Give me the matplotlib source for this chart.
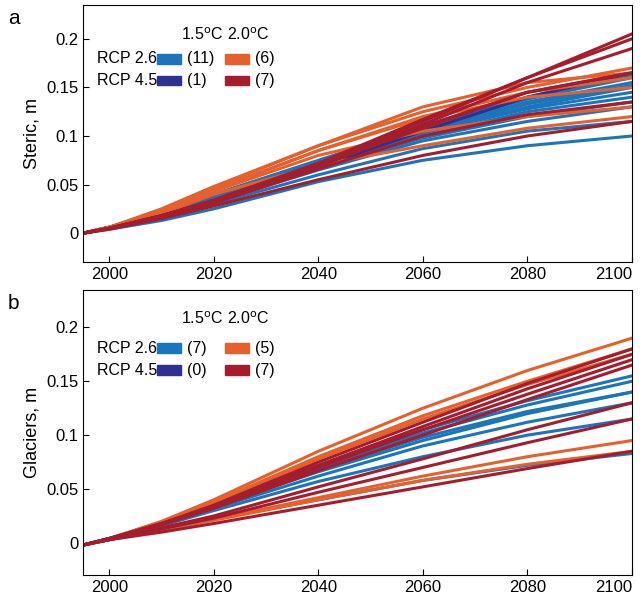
import matplotlib
matplotlib.use("Agg")
import matplotlib.pyplot as plt
from matplotlib.patches import Rectangle

years = [1995, 2000, 2010, 2020, 2040, 2060, 2080, 2100]

steric_blue = [
 [0,0.004,0.013,0.025,0.053,0.075,0.090,0.100],
 [0,0.005,0.016,0.030,0.060,0.087,0.105,0.115],
 [0,0.005,0.017,0.032,0.065,0.095,0.115,0.130],
 [0,0.005,0.018,0.033,0.067,0.098,0.120,0.135],
 [0,0.006,0.019,0.035,0.070,0.100,0.125,0.140],
 [0,0.006,0.020,0.036,0.070,0.103,0.128,0.145],
 [0,0.006,0.020,0.037,0.072,0.105,0.130,0.150],
 [0,0.006,0.021,0.038,0.072,0.106,0.133,0.152],
 [0,0.006,0.020,0.036,0.070,0.106,0.135,0.155],
 [0,0.006,0.021,0.038,0.073,0.108,0.138,0.160],
 [0,0.006,0.022,0.040,0.075,0.110,0.140,0.163]]
steric_dark = [[0,0.005,0.018,0.033,0.068,0.105,0.140,0.165]]
steric_orange = [
 [0,0.005,0.020,0.040,0.070,0.090,0.108,0.120],
 [0,0.006,0.022,0.043,0.080,0.105,0.120,0.130],
 [0,0.006,0.023,0.045,0.085,0.118,0.140,0.150],
 [0,0.006,0.024,0.047,0.090,0.130,0.155,0.165],
 [0,0.006,0.025,0.048,0.090,0.125,0.150,0.170],
 [0,0.006,0.022,0.044,0.085,0.120,0.145,0.160]]
steric_red = [
 [0,0.005,0.018,0.033,0.070,0.115,0.160,0.205],
 [0,0.005,0.018,0.034,0.072,0.117,0.160,0.200],
 [0,0.005,0.017,0.032,0.068,0.112,0.155,0.190],
 [0,0.005,0.018,0.033,0.070,0.110,0.145,0.165],
 [0,0.005,0.017,0.031,0.066,0.100,0.122,0.135],
 [0,0.004,0.015,0.028,0.055,0.080,0.100,0.115],
 [0,0.005,0.018,0.034,0.070,0.108,0.145,0.165]]

glac_blue = [
 [-0.002,0.003,0.013,0.022,0.040,0.058,0.072,0.083],
 [-0.002,0.004,0.016,0.030,0.057,0.080,0.100,0.115],
 [-0.002,0.004,0.017,0.032,0.062,0.090,0.112,0.130],
 [-0.002,0.004,0.018,0.034,0.066,0.095,0.120,0.140],
 [-0.002,0.004,0.018,0.035,0.068,0.098,0.122,0.140],
 [-0.002,0.004,0.019,0.036,0.070,0.102,0.128,0.150],
 [-0.002,0.004,0.019,0.037,0.072,0.105,0.132,0.155]]
glac_dark = []
glac_orange = [
 [-0.002,0.004,0.020,0.040,0.085,0.125,0.160,0.190],
 [-0.002,0.004,0.019,0.038,0.080,0.118,0.150,0.180],
 [-0.002,0.003,0.012,0.022,0.042,0.062,0.080,0.095],
 [-0.002,0.003,0.012,0.021,0.040,0.058,0.073,0.085],
 [-0.002,0.004,0.019,0.037,0.078,0.115,0.147,0.175]]
glac_red = [
 [-0.002,0.004,0.018,0.035,0.075,0.112,0.148,0.180],
 [-0.002,0.004,0.018,0.034,0.072,0.108,0.143,0.175],
 [-0.002,0.004,0.017,0.033,0.070,0.105,0.138,0.170],
 [-0.002,0.004,0.017,0.032,0.067,0.100,0.133,0.165],
 [-0.002,0.003,0.014,0.025,0.052,0.078,0.105,0.130],
 [-0.002,0.003,0.013,0.023,0.047,0.070,0.093,0.115],
 [-0.002,0.003,0.010,0.018,0.035,0.052,0.069,0.085]]

C_BLUE, C_DARK, C_ORANGE, C_RED = "#1b75bc", "#2e3192", "#e5602d", "#a51d2d"

fig = plt.figure(figsize=(6.44, 6.10), dpi=100)
plt.rcParams['font.family'] = ['Liberation Sans', 'DejaVu Sans']
axa = fig.add_axes([0.129, 0.570, 0.852, 0.422])
axb = fig.add_axes([0.129, 0.057, 0.852, 0.468])

def draw(ax, groups, counts, ylabel, rows_y, header_y):
    for lines, c in groups:
        for v in lines:
            ax.plot(years, v, color=c, lw=2.2)
    ax.set_xlim(1995, 2100)
    ax.set_ylim(-0.03, 0.235)
    ax.set_xticks([2000, 2020, 2040, 2060, 2080, 2100])
    ax.set_yticks([0, 0.05, 0.1, 0.15, 0.2])
    ax.set_yticklabels(['0', '0.05', '0.1', '0.15', '0.2'])
    ax.tick_params(labelsize=12, direction='in', length=4)
    for lbl in ax.get_xticklabels():
        if lbl.get_text() == '2100':
            lbl.set_horizontalalignment('right')
    ax.set_ylabel(ylabel, fontsize=13)
    fs = 11.5
    ax.text(0.178, header_y, "1.5$^{\\rm o}$C", transform=ax.transAxes, fontsize=fs, va='center')
    ax.text(0.262, header_y, "2.0$^{\\rm o}$C", transform=ax.transAxes, fontsize=fs, va='center')
    labels = ["RCP 2.6", "RCP 4.5"]
    cols = [(C_BLUE, C_ORANGE), (C_DARK, C_RED)]
    for i, y in enumerate(rows_y):
        ax.text(0.025, y, labels[i], transform=ax.transAxes, fontsize=fs, va='center')
        for j, x0 in enumerate([0.134, 0.258]):
            ax.add_patch(Rectangle((x0, y - 0.018), 0.045, 0.036, transform=ax.transAxes,
                                   color=cols[i][j], clip_on=False))
            ax.text(x0 + 0.055, y, "(%d)" % counts[i][j], transform=ax.transAxes,
                    fontsize=fs, va='center')

draw(axa, [(steric_blue, C_BLUE), (steric_dark, C_DARK), (steric_orange, C_ORANGE), (steric_red, C_RED)],
     [(11, 6), (1, 7)], "Steric, m", [0.79, 0.705], 0.885)
draw(axb, [(glac_blue, C_BLUE), (glac_dark, C_DARK), (glac_orange, C_ORANGE), (glac_red, C_RED)],
     [(7, 5), (0, 7)], "Glaciers, m", [0.795, 0.718], 0.90)
fig.text(0.012, 0.985, "a", fontsize=15, va='top')
fig.text(0.012, 0.518, "b", fontsize=15, va='top')
fig.savefig("out.png", dpi=100)
